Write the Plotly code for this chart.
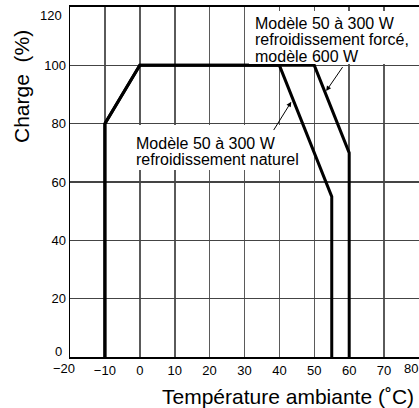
import plotly.graph_objects as go

# Data
temp_natural = [-10, -10, 0, 40, 55, 55]
load_natural = [0, 80, 100, 100, 55, 0]
temp_forced = [-10, -10, 0, 50, 60, 60]
load_forced = [0, 80, 100, 100, 70, 0]

x_ticks = [-20, -10, 0, 10, 20, 30, 40, 50, 60, 70, 80]
y_ticks = [0, 20, 40, 60, 80, 100, 120]
x_labels = ["", "−10", "0", "10", "20", "30", "40", "50", "60", "70", ""]
y_labels = ["", "20", "40", "60", "80", "100", ""]

W, H = 419, 408
L, R, T, B = 70, 0, 7, 51
FONT = "Liberation Sans, Arial, Helvetica, sans-serif"

def px(x):
    return (x - L) / (W - L - R)

def py(y):
    return (H - B - y) / (H - T - B)

fig = go.Figure()
fig.add_trace(go.Scatter(x=temp_forced, y=load_forced, mode="lines",
                         line=dict(color="black", width=3), hoverinfo="skip"))
fig.add_trace(go.Scatter(x=temp_natural, y=load_natural, mode="lines",
                         line=dict(color="black", width=3), hoverinfo="skip"))

shapes = [
    dict(type="rect", xref="paper", yref="paper", x0=px(128), x1=px(300), y0=py(170), y1=py(125),
         fillcolor="white", line=dict(width=0), layer="above"),
    dict(type="rect", xref="paper", yref="paper", x0=px(249), x1=px(419), y0=py(64), y1=py(11),
         fillcolor="white", line=dict(width=0), layer="above"),
]

tfont = dict(family=FONT, size=16, color="black")
kfont = dict(family=FONT, size=13, color="black")
annotations = [
    dict(text="Charge  (%)", textangle=-90, xref="paper", yref="paper", x=px(22), y=py(87),
         xanchor="center", yanchor="middle", showarrow=False, font=dict(family=FONT, size=21, color="black")),
    dict(text="Température ambiante (˚C)", xref="paper", yref="paper", x=px(160), y=py(396),
         xanchor="left", yanchor="middle", showarrow=False, font=dict(family=FONT, size=21, color="black")),
    dict(text="120", xref="paper", yref="paper", x=px(64), y=py(15), xanchor="right", yanchor="middle",
         showarrow=False, font=kfont),
    dict(text="0", xref="paper", yref="paper", x=px(64), y=py(351), xanchor="right", yanchor="middle",
         showarrow=False, font=kfont),
    dict(text="−20", xref="paper", yref="paper", x=px(64), y=py(368), xanchor="center", yanchor="middle",
         showarrow=False, font=kfont),
    dict(text="80", xref="paper", yref="paper", x=px(411), y=py(368), xanchor="center", yanchor="middle",
         showarrow=False, font=kfont),
    dict(text="Modèle 50 à 300 W", xref="paper", yref="paper", x=px(134), y=py(143.5),
         xanchor="left", yanchor="middle", showarrow=False, font=tfont),
    dict(text="refroidissement naturel", xref="paper", yref="paper", x=px(134), y=py(159),
         xanchor="left", yanchor="middle", showarrow=False, font=tfont),
    dict(text="Modèle 50 à 300 W", xref="paper", yref="paper", x=px(253), y=py(23),
         xanchor="left", yanchor="middle", showarrow=False, font=tfont),
    dict(text="refroidissement forcé,", xref="paper", yref="paper", x=px(253), y=py(39.5),
         xanchor="left", yanchor="middle", showarrow=False, font=tfont),
    dict(text="modèle 600 W", xref="paper", yref="paper", x=px(253), y=py(56.5),
         xanchor="left", yanchor="middle", showarrow=False, font=tfont),
    # arrows
    dict(text="", x=43.4, y=87.5, ax=38.1, ay=77.3, xref="x", yref="y", axref="x", ayref="y",
         showarrow=True, arrowhead=2, arrowsize=1, arrowwidth=1, arrowcolor="black"),
    dict(text="", x=53.4, y=91.2, ax=58.4, ay=99.9, xref="x", yref="y", axref="x", ayref="y",
         showarrow=True, arrowhead=2, arrowsize=1, arrowwidth=1, arrowcolor="black"),
]

fig.update_layout(
    template="none",
    width=W, height=H,
    margin=dict(l=L, r=R, t=T, b=B, autoexpand=False),
    paper_bgcolor="white", plot_bgcolor="white",
    showlegend=False,
    font=dict(family=FONT, color="black", size=13),
    shapes=shapes, annotations=annotations,
)
fig.update_xaxes(range=[-20, 80], tickmode="array", tickvals=x_ticks, ticktext=x_labels, ticks="",
                 showgrid=True, gridcolor="#5a5a5a", gridwidth=1.6,
                 showline=True, linecolor="black", linewidth=2, mirror=True,
                 zeroline=False, tickfont=dict(size=13), automargin=False)
fig.update_yaxes(range=[0, 120], tickmode="array", tickvals=y_ticks, ticktext=y_labels, ticks="",
                 showgrid=True, gridcolor="#444444", gridwidth=1.6,
                 showline=True, linecolor="black", linewidth=1.5, mirror=False,
                 zeroline=False, tickfont=dict(size=13), automargin=False)

fig.write_html("out.html", config={"displayModeBar": False, "staticPlot": True},
               post_script="document.body.style.margin='0';document.body.style.overflow='hidden';")
